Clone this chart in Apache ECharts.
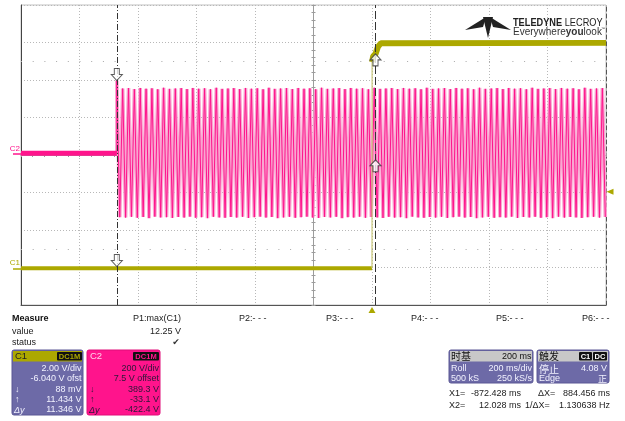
<!DOCTYPE html>
<html><head><meta charset="utf-8">
<script src="https://cdn.jsdelivr.net/npm/echarts@6/dist/echarts.min.js"></script>
<style>html,body{margin:0;padding:0;background:#fff}#c{width:625px;height:421px}</style>
</head><body><div id="c"></div>
<script>
// ---------------- data ----------------
const timeMin = -1200, timeMax = 800, timeStep = 200;        // ms, 200 ms/div
const c1VoltsPerDiv = 2.0, c1Offset = -6.04;                  // C1 2.00 V/div, -6.040 V ofst
const c2VoltsPerDiv = 200, c2Offset = 7.5;                    // C2 200 V/div, 7.5 V offset
const c1Low  = [[-1200, 0.0], [0, 0.0]];
const c1Edge = [[0, 0.0], [0.4, 11.0]];
const c1High = [[0.4, 11.0], [4, 11.3], [12, 11.43], [20, 11.8], [30, 12.0], [800, 12.02]];
const c2Flat = [[-1200, 2], [-872.4, 2]];
const c2Start = -872.4, c2HalfPeriod = 10;                    // 50 Hz mains, extremes every 10 ms
const c2Extremes = [
  389.3,-339, 347,-341, 349,-337, 344,-342, 350,-338, 346,-344, 348,-336, 343,-340, 351,-339, 345,-343,
  347,-338, 349,-341, 344,-336, 350,-342, 346,-339, 348,-344, 343,-337, 351,-340, 345,-342, 347,-338,
  349,-341, 344,-337, 350,-343, 346,-339, 348,-336, 343,-341, 351,-338, 345,-344, 347,-340, 349,-337,
  344,-342, 350,-339, 346,-336, 348,-341, 343,-343, 351,-338, 345,-340, 347,-337, 349,-344, 344,-339,
  350,-341, 346,-336, 348,-342, 343,-338, 351,-340, 345,-343, 347,-337, 349,-341, 344,-339, 350,-344,
  346,-336, 348,-340, 343,-342, 351,-338, 345,-341, 347,-337, 349,-343, 344,-339, 350,-336, 346,-341,
  348,-338, 343,-344, 351,-340, 345,-337, 347,-342, 349,-339, 344,-341, 350,-336, 346,-343, 348,-338,
  343,-340, 351,-337, 345,-342, 347,-339, 349,-344, 344,-336, 350,-341, 346,-338, 348,-340, 343,-343,
  351,-339, 345,-337, 347,-341, 349,-338
];
const cursorTimes = [-872.428, 12.028];
const c1CursorValues = [0.088, 11.434];
const c2CursorValues = [389.3, -33.1];
const triggerLevel = 4.08, triggerTime = 0;
const measureLabels = ['P1:max(C1)', 'P2:- - -', 'P3:- - -', 'P4:- - -', 'P5:- - -', 'P6:- - -'];
const measureValue = '12.25 V';
const c1Readout = ['2.00 V/div', '-6.040 V ofst', '88 mV', '11.434 V', '11.346 V'];
const c2Readout = ['200 V/div', '7.5 V offset', '389.3 V', '-33.1 V', '-422.4 V'];

// ---------------- derived ----------------
const c1Center = -c1Offset, c2Center = -c2Offset, nDiv = 4;
const c2Data = c2Flat.concat(c2Extremes.map((v, i) => [c2Start + i * c2HalfPeriod, v]));
const OLIVE = '#aca800', PINK = '#ff148c', PINKL = '#f9a6d1', PURPLE = '#6d6aa7';
const F = '"Liberation Sans", Arial, sans-serif';
const CJK = '"Noto Sans CJK SC", sans-serif';
const DOWN = 'path://M3,0 L8,0 L8,6 L11,6 L5.5,12 L0,6 L3,6 Z';
const UP = 'path://M5.5,0 L11,6 L8,6 L8,12 L3,12 L3,6 L0,6 Z';

const chart = echarts.init(document.getElementById('c'));
const G = {left: 21, top: 5, width: 585, height: 300};

function T(x, y, text, o) {
  o = o || {};
  return {type: 'text', x: x, y: y, z: 20, scaleX: o.sx || 1,
    style: {text: text, fill: o.c || '#222', font: o.f || ('9px ' + F),
      align: o.a || 'left', verticalAlign: 'middle', textDecoration: o.u ? 'underline' : 'none'}};
}
function R(x, y, w, h, fill, o) {
  o = o || {};
  return {type: 'rect', z: 19, shape: {x: x, y: y, width: w, height: h, r: o.r || 0},
    style: {fill: fill, stroke: o.s || null, lineWidth: o.s ? 1 : 0}};
}
const graphics = [];
// logo
graphics.push({type: 'polygon', z: 20, shape: {points: [[465, 30], [486, 17], [483, 27]]}, style: {fill: '#222'}});
graphics.push({type: 'polygon', z: 20, shape: {points: [[483, 17], [493, 17], [488, 38]]}, style: {fill: '#222'}});
graphics.push({type: 'polygon', z: 20, shape: {points: [[511, 30], [490, 17], [493, 27]]}, style: {fill: '#222'}});
graphics.push({type: 'text', x: 513, y: 22.5, z: 20, scaleX: 0.8,
  style: {text: '{b|TELEDYNE} {r|LECROY}', verticalAlign: 'middle',
    rich: {b: {font: 'bold 11.5px ' + F, fill: '#222'}, r: {font: '11.5px ' + F, fill: '#222'}}}});
graphics.push({type: 'text', x: 513, y: 32, z: 20,
  style: {text: '{r|Everywhere}{b|you}{r|look}', verticalAlign: 'middle',
    rich: {b: {font: 'bold 10px ' + F, fill: '#333'}, r: {font: '10px ' + F, fill: '#333'}}}});
graphics.push(T(601, 28.5, '™', {f: '4px ' + F, c: '#333'}));
// measure area
graphics.push(T(12, 319, 'Measure', {f: 'bold 9px ' + F, c: '#111'}));
graphics.push(T(12, 331.5, 'value'));
graphics.push(T(12, 343, 'status'));
graphics.push(T(181, 319, measureLabels[0], {a: 'right'}));
graphics.push(T(181, 331.5, measureValue, {a: 'right'}));
graphics.push(T(176, 343, '✔', {a: 'center', f: '9px "DejaVu Sans", sans-serif', c: '#333'}));
[239, 326, 411, 496, 582].forEach((x, i) => graphics.push(T(x, 319, measureLabels[i + 1])));
// C1 box
graphics.push(R(12, 350, 71, 65, PURPLE, {r: 2, s: '#5a5794'}));
graphics.push(R(13, 351, 69, 10.5, OLIVE));
graphics.push(T(15, 356.5, 'C1', {f: '9.5px ' + F, c: '#222'}));
graphics.push(R(57, 352, 25, 8.5, '#111', {r: 1}));
graphics.push(T(69.5, 356.5, 'DC1M', {a: 'center', f: 'bold 7.5px ' + F, c: OLIVE}));
[369, 379, 389.5, 400, 410].forEach((y, i) => graphics.push(T(81.5, y, c1Readout[i], {a: 'right', c: '#f2f2ff'})));
graphics.push(T(15, 389.5, '↓', {c: '#f2f2ff'}));
graphics.push(T(15, 400, '↑', {c: '#f2f2ff'}));
graphics.push(T(14, 410, 'Δy', {c: '#f2f2ff', f: 'italic 9px ' + F}));
// C2 box
graphics.push(R(87, 350, 73, 65, PINK, {r: 2, s: '#e00c78'}));
graphics.push(T(90, 356.5, 'C2', {f: '9.5px ' + F, c: '#ffd2ea'}));
graphics.push(R(133, 352, 26, 8.5, '#111', {r: 1}));
graphics.push(T(146, 356.5, 'DC1M', {a: 'center', f: 'bold 7.5px ' + F, c: PINK}));
[369, 379, 389.5, 400, 410].forEach((y, i) => graphics.push(T(159, y, c2Readout[i], {a: 'right', c: '#2b1838'})));
graphics.push(T(90, 389.5, '↓', {c: '#2b1838'}));
graphics.push(T(90, 400, '↑', {c: '#2b1838'}));
graphics.push(T(89, 410, 'Δy', {c: '#2b1838', f: 'italic 9px ' + F}));
// timebase box
graphics.push(R(449, 350, 84, 33, PURPLE, {r: 2, s: '#5a5794'}));
graphics.push(R(450, 351, 82, 10.5, '#c8c8c8'));
graphics.push(T(451, 356.5, '时基', {f: '10px ' + CJK, c: '#111'}));
graphics.push(T(531.5, 356.5, '200 ms', {a: 'right', c: '#111'}));
graphics.push(T(451, 369, 'Roll', {c: '#f2f2ff'}));
graphics.push(T(532, 369, '200 ms/div', {a: 'right', c: '#f2f2ff'}));
graphics.push(T(451, 378.5, '500 kS', {c: '#f2f2ff'}));
graphics.push(T(532, 378.5, '250 kS/s', {a: 'right', c: '#f2f2ff'}));
// trigger box
graphics.push(R(537, 350, 72, 33, PURPLE, {r: 2, s: '#5a5794'}));
graphics.push(R(538, 351, 70, 10.5, '#c8c8c8'));
graphics.push(T(539, 356.5, '触发', {f: '10px ' + CJK, c: '#111'}));
graphics.push(R(579, 352, 13, 8.5, '#111', {r: 1}));
graphics.push(T(585.5, 356.5, 'C1', {a: 'center', f: 'bold 7.5px ' + F, c: '#fff'}));
graphics.push(R(593, 352, 14, 8.5, '#111', {r: 1}));
graphics.push(T(600, 356.5, 'DC', {a: 'center', f: 'bold 7.5px ' + F, c: '#fff'}));
graphics.push(T(539, 369, '停止', {f: '10px ' + CJK, c: '#f2f2ff'}));
graphics.push(T(607, 369, '4.08 V', {a: 'right', c: '#f2f2ff'}));
graphics.push(T(539, 378.5, 'Edge', {c: '#f2f2ff'}));
graphics.push(T(607, 378.5, '正', {a: 'right', f: '9px ' + CJK, c: '#f2f2ff', u: true}));
// cursor readouts
graphics.push(T(449, 394, 'X1='));
graphics.push(T(521, 394, '-872.428 ms', {a: 'right'}));
graphics.push(T(538, 394, 'ΔX='));
graphics.push(T(610, 394, '884.456 ms', {a: 'right'}));
graphics.push(T(449, 405.5, 'X2='));
graphics.push(T(521, 405.5, '12.028 ms', {a: 'right'}));
graphics.push(T(525, 405.5, '1/ΔX='));
graphics.push(T(610, 405.5, '1.130638 Hz', {a: 'right'}));

const none = {show: false};
const divAxisBase = {type: 'value', axisLabel: none, splitLine: none};
const option = {
  animation: false,
  backgroundColor: '#fff',
  grid: Object.assign({show: true, borderColor: '#c0c0c0', borderWidth: 1}, G),
  xAxis: [
    {type: 'value', min: timeMin, max: timeMax, interval: timeStep, position: 'bottom',
      axisLine: {show: true, onZero: false, lineStyle: {color: '#555'}}, axisTick: none, axisLabel: none,
      splitLine: {show: true, lineStyle: {color: '#b8b8b8', type: [1, 2]}}},
    Object.assign({}, divAxisBase, {min: -5, max: 5, interval: 0.2, position: 'bottom',
      axisLine: {show: true, onZero: true, onZeroAxisIndex: 1, lineStyle: {color: '#9c9c9c'}},
      axisTick: {show: true, inside: true, length: 2, lineStyle: {color: '#9c9c9c'}}}),
    Object.assign({}, divAxisBase, {min: -5, max: 5, interval: 0.2, position: 'bottom',
      axisLine: {show: false, onZero: true, onZeroAxisIndex: 1},
      axisTick: {show: true, inside: false, length: 2, lineStyle: {color: '#9c9c9c'}}})
  ],
  yAxis: [
    Object.assign({}, divAxisBase, {min: -nDiv, max: nDiv, interval: 1, position: 'left',
      axisLine: {show: true, onZero: false, lineStyle: {color: '#444'}}, axisTick: none,
      splitLine: {show: true, lineStyle: {color: '#b8b8b8', type: [1, 2]}}}),
    Object.assign({}, divAxisBase, {min: -nDiv, max: nDiv, interval: 0.2, position: 'left',
      axisLine: {show: true, onZero: true, onZeroAxisIndex: 1, lineStyle: {color: '#9c9c9c'}},
      axisTick: {show: true, inside: true, length: 2, lineStyle: {color: '#9c9c9c'}}}),
    Object.assign({}, divAxisBase, {min: -nDiv, max: nDiv, interval: 0.2, position: 'left',
      axisLine: {show: false, onZero: true, onZeroAxisIndex: 1},
      axisTick: {show: true, inside: false, length: 2, lineStyle: {color: '#9c9c9c'}}}),
    {type: 'value', min: c1Center - nDiv * c1VoltsPerDiv, max: c1Center + nDiv * c1VoltsPerDiv, position: 'left',
      axisLine: {show: false, onZero: false}, splitLine: none,
      axisTick: {show: true, customValues: [0], length: 8, lineStyle: {color: OLIVE, width: 1.5}},
      axisLabel: {show: true, customValues: [0], formatter: () => 'C1', color: OLIVE, fontSize: 8, fontFamily: 'Liberation Sans',
        margin: 1, align: 'right', verticalAlign: 'bottom', padding: [0, 0, 1, 0]}},
    {type: 'value', min: c2Center - nDiv * c2VoltsPerDiv, max: c2Center + nDiv * c2VoltsPerDiv, position: 'left',
      axisLine: {show: false, onZero: false}, splitLine: none,
      axisTick: {show: true, customValues: [0], length: 8, lineStyle: {color: PINK, width: 1.5}},
      axisLabel: {show: true, customValues: [0], formatter: () => 'C2', color: PINK, fontSize: 8, fontFamily: 'Liberation Sans',
        margin: 1, align: 'right', verticalAlign: 'bottom', padding: [0, 0, 1, 0]}},
    Object.assign({}, divAxisBase, {min: -nDiv, max: nDiv, position: 'right',
      axisLine: {show: true, onZero: false, lineStyle: {color: '#555', type: [4, 3]}}, axisTick: none})
  ],
  graphic: graphics,
  series: [
    {name: 'C2 env', type: 'line', xAxisIndex: 0, yAxisIndex: 4, data: c2Data, showSymbol: false, z: 2,
      lineStyle: {color: PINKL, width: 3.6},
      markLine: {silent: true, symbol: 'none', label: none,
        lineStyle: {color: '#a8a8a8', width: 1, type: [1, 10.7]},
        data: [{yAxis: c2Center + 2.5 * c2VoltsPerDiv}, {yAxis: c2Center - 2.5 * c2VoltsPerDiv}]}},
    {name: 'C2', type: 'line', xAxisIndex: 0, yAxisIndex: 4, data: c2Data, showSymbol: false, z: 3,
      lineStyle: {color: PINK, width: 1}},
    {name: 'C2 flat', type: 'line', xAxisIndex: 0, yAxisIndex: 4, data: c2Flat, showSymbol: false, z: 3,
      lineStyle: {color: PINK, width: 5}},
    {name: 'C1 low', type: 'line', xAxisIndex: 0, yAxisIndex: 3, data: c1Low, showSymbol: false, z: 4,
      lineStyle: {color: OLIVE, width: 4}},
    {name: 'C1 edge', type: 'line', xAxisIndex: 0, yAxisIndex: 3, data: c1Edge, showSymbol: false, z: 4,
      lineStyle: {color: '#c9c77a', width: 1.2}},
    {name: 'C1 high', type: 'line', xAxisIndex: 0, yAxisIndex: 3, data: c1High, showSymbol: false, z: 4,
      lineStyle: {color: OLIVE, width: 6},
      markPoint: {silent: true, label: none, itemStyle: {color: OLIVE},
        data: [
          {coord: [timeMax, triggerLevel], symbol: 'triangle', symbolSize: [6, 7], symbolRotate: 90, symbolOffset: [4, 0]},
          {coord: [triggerTime, c1Center - nDiv * c1VoltsPerDiv], symbol: 'triangle', symbolSize: [7, 6], symbolOffset: [0, 5]}
        ]}},
    {name: 'cursors C1', type: 'scatter', xAxisIndex: 0, yAxisIndex: 3, z: 6, symbolSize: [11, 12],
      itemStyle: {color: '#fff', borderColor: '#333', borderWidth: 1},
      data: [
        {value: [cursorTimes[0], c1CursorValues[0]], symbol: DOWN, symbolOffset: [0, -6]},
        {value: [cursorTimes[1], c1CursorValues[1]], symbol: UP, symbolOffset: [0, 6]}
      ],
      markLine: {silent: true, symbol: 'none', label: none,
        data: [
          {xAxis: cursorTimes[0], lineStyle: {color: '#333', width: 1, type: [6, 2, 1, 2]}},
          {xAxis: cursorTimes[1], lineStyle: {color: '#333', width: 1, type: [8, 3]}}
        ]}},
    {name: 'cursors C2', type: 'scatter', xAxisIndex: 0, yAxisIndex: 4, z: 6, symbolSize: [11, 12],
      itemStyle: {color: '#fff', borderColor: '#333', borderWidth: 1},
      data: [
        {value: [cursorTimes[0], c2CursorValues[0]], symbol: DOWN, symbolOffset: [0, -6]},
        {value: [cursorTimes[1], c2CursorValues[1]], symbol: UP, symbolOffset: [0, 6]}
      ]}
  ]
};
chart.setOption(option);
</script>
</body></html>
